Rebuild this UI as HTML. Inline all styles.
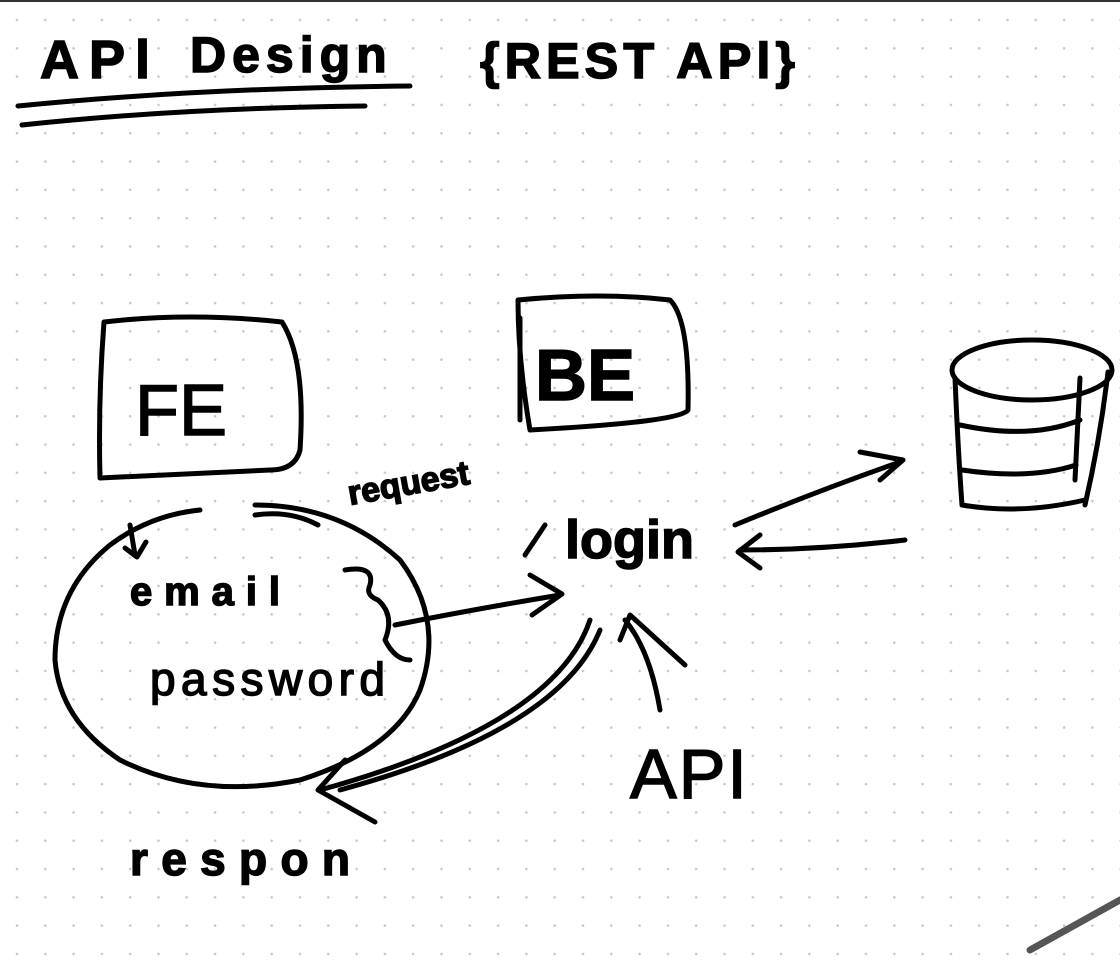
<!DOCTYPE html>
<html><head><meta charset="utf-8">
<style>
html,body{margin:0;padding:0;background:#fff;}
svg{display:block;}
text{font-family:"Liberation Sans",sans-serif;fill:#000;}
</style></head>
<body>
<svg width="1120" height="961" viewBox="0 0 1120 961" xmlns="http://www.w3.org/2000/svg">
<defs>
<pattern id="dots" x="0" y="0" width="28.3" height="28.3" patternUnits="userSpaceOnUse">
<circle cx="17" cy="20" r="1.3" fill="#c8c8c8"/>
</pattern>
</defs>
<rect width="1120" height="961" fill="#fff"/>
<rect width="1120" height="961" fill="url(#dots)"/>
<rect x="0" y="0" width="1120" height="2" fill="#333"/>

<g fill="none" stroke="#000" stroke-width="5" stroke-linecap="round" stroke-linejoin="round">
<path d="M18 106 Q200 88 410 86"/>
<path d="M22 125 Q180 108 365 106"/>
<path d="M104 322 Q190 312 282 322 Q306 360 300 450 Q295 470 270 470 L100 478 Q98 400 104 322"/>
<path d="M518 300 Q600 292 670 300 Q690 320 688 410 Q680 422 530 430 Q518 360 518 300"/>
<path d="M520 318 L520 420"/>
<ellipse cx="1032" cy="370" rx="80" ry="30"/>
<path d="M955 378 Q958 450 962 505"/>
<path d="M1108 372 Q1100 440 1085 505"/>
<path d="M962 505 Q1020 515 1085 500"/>
<path d="M960 425 Q1030 440 1080 420"/>
<path d="M962 470 Q1030 480 1076 465"/>
<path d="M1080 378 L1075 480"/>
<path d="M735 525 Q820 490 900 462"/>
<path d="M860 452 L903 460 L880 480"/>
<path d="M740 550 Q820 550 905 540"/>
<path d="M760 535 L738 552 L760 568"/>
<path d="M255 505 Q340 505 400 560 Q445 620 420 690 Q395 750 300 780 Q200 800 120 760 Q60 720 55 660 Q55 590 110 545 Q150 515 200 510"/>
<path d="M130 525 L135 555 M125 548 L137 557 L146 542"/>
<path d="M395 625 Q470 610 560 595"/>
<path d="M530 575 L562 594 L532 615"/>
<path d="M255 515 Q290 510 318 525"/>
<path d="M345 570 Q375 565 370 585 Q365 595 378 600 Q395 615 385 640 Q395 660 410 660"/>
<path d="M600 630 Q560 730 340 790"/>
<path d="M590 620 Q555 725 320 790"/>
<path d="M345 760 L318 790 L375 822"/>
<path d="M660 710 Q650 650 625 620"/>
<path d="M620 640 L630 615 L685 665"/>
<path d="M525 555 L545 525"/>
<path d="M1030 950 L1120 900" stroke="#555" stroke-width="7"/>
</g>

<g stroke="#000" stroke-width="1.5">
<text x="40" y="78" font-size="54" letter-spacing="10" font-weight="bold">APl</text>
<text x="190" y="72" font-size="50" letter-spacing="6" font-weight="bold">Design</text>
<text x="480" y="78" font-size="50" letter-spacing="5" font-weight="bold" textLength="320" lengthAdjust="spacingAndGlyphs">{REST APl}</text>
<text x="135" y="435" font-size="72">FE</text>
<text x="535" y="400" font-size="72" font-weight="bold">BE</text>
<text x="350" y="505" font-size="34" font-weight="bold" transform="rotate(-10 350 505)">request</text>
<text x="565" y="558" font-size="54" font-weight="bold">login</text>
<text x="130" y="605" font-size="40" font-weight="bold" textLength="150">email</text>
<text x="150" y="695" font-size="46" textLength="235">password</text>
<text x="630" y="798" font-size="70" letter-spacing="2">API</text>
<text x="130" y="875" font-size="46" font-weight="bold" textLength="220">respon</text>
</g>
</svg>
</body></html>
